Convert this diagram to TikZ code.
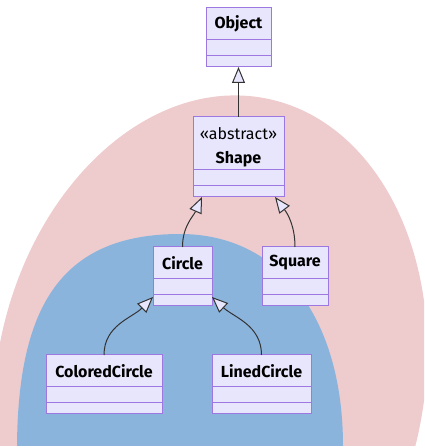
\documentclass[tikz,border=0pt]{standalone}
\usepackage{fontspec}
\setsansfont{Fira Sans}
\usepackage{tikz}
\usepackage{xcolor}
\usetikzlibrary{positioning,arrows.meta}

\definecolor{pinkbg}{HTML}{EECBCD}
\definecolor{bluebg}{HTML}{8BB4DD}
\definecolor{boxfill}{HTML}{E8E6FC}
\definecolor{boxline}{HTML}{9C78E0}
\definecolor{edge}{HTML}{333333}

\begin{document}
\begin{tikzpicture}[x=1pt,y=1pt]%[scale=2.5]
\useasboundingbox (0,0) rectangle (424,448);
\begin{scope}
\clip (0,2) rectangle (424,448);
\fill[pinkbg,rotate around={-11:(210,64)}] (210,64) ellipse (214 and 291);
\fill[bluebg] (17,-10) -- (17,2) .. controls (18,140) and (60,214) .. (180,214)
  .. controls (280,214) and (343,130) .. (343,2) -- (343,-10) -- cycle;
\end{scope}

\tikzstyle{every node}=[draw=boxline,fill=boxfill,line width=1pt,inner sep=0pt,outer sep=0pt,font=\sffamily\bfseries\fontsize{16}{24}\selectfont]
\tikzstyle{ext}=[draw=edge,line width=1pt,-{Triangle[length=16pt,width=13pt,fill=boxfill]}]

\draw node[minimum width=65,minimum height=32] (obj) at (238.5,424) {Object};
\draw node[minimum width=91,minimum height=53,align=center] (shape) at (238.5,304.5) {{\mdseries\rule{0pt}{20pt}«abstract»}\\Shape};
\draw node[minimum width=59,minimum height=32] (circ) at (182.5,185) {Circle};
\draw node[minimum width=66,minimum height=32] (sq) at (295,185) {Square};
\draw node[minimum width=116,minimum height=32] (colc) at (104,77) {ColoredCircle};
\draw node[minimum width=99,minimum height=32] (linc) at (261.5,77) {LinedCircle};
\foreach \n/\w in {obj/65,shape/91,circ/59,sq/66,colc/116,linc/99}{
  \node[minimum width=\w,minimum height=16,below=0pt of \n] (\n1) {};
  \node[minimum width=\w,minimum height=11,below=0pt of \n1] (\n2) {};
}

\draw[ext] (shape.north) -- (obj2.south);
\draw[ext] (circ.north) to[out=90,in=-114] ([xshift=9]shape2.south west);
\draw[ext] (sq.north) to[out=90,in=-53] ([xshift=-9]shape2.south east);
\draw[ext] (colc.north) to[out=90,in=-135] ([yshift=9]circ2.south west);
\draw[ext] (linc.north) to[out=90,in=-43] ([yshift=9]circ2.south east);
\end{tikzpicture}
\end{document}
